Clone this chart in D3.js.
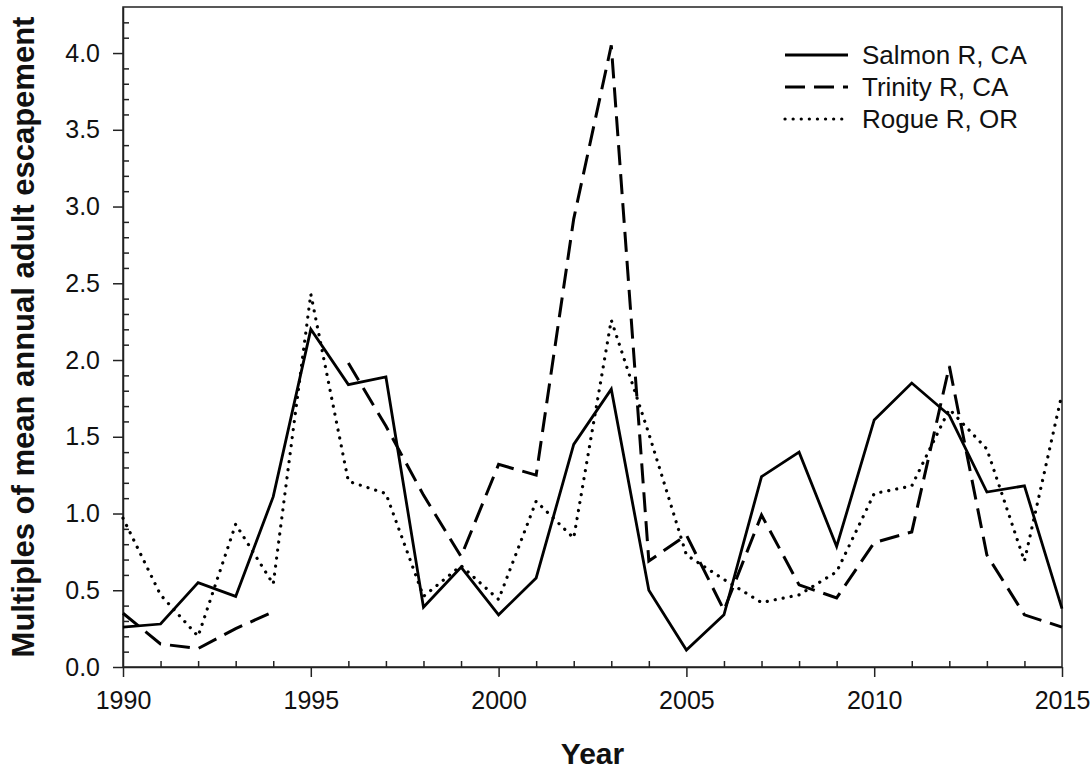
<!DOCTYPE html>
<html>
<head>
<meta charset="utf-8">
<script src="https://cdn.jsdelivr.net/npm/d3@7"></script>
<style>
  body { margin: 0; background: #fff; }
  svg { display: block; font-family: 'Liberation Sans', Arial, sans-serif; }
  .axis path, .axis line { stroke: #222; stroke-width: 1.5; }
  .axis text { font-size: 25px; fill: #111; }
  .series { fill: none; stroke: #000; }
</style>
</head>
<body>
<svg class="chart"></svg>
<script>
// data
let years = d3.range(1990, 2016);
let salmon = [0.26, 0.28, 0.55, 0.46, 1.11, 2.20, 1.84, 1.89, 0.39, 0.65, 0.34, 0.58, 1.45,
  1.81, 0.50, 0.11, 0.34, 1.24, 1.40, 0.785, 1.61, 1.85, 1.64, 1.14, 1.18, 0.38];
let trinity = [0.35, 0.15, 0.12, 0.25, 0.36, null, 1.98, 1.57, 1.12, 0.72, 1.32, 1.25, 2.92,
  4.05, 0.69, 0.86, 0.37, 0.99, 0.535, 0.45, 0.81, 0.88, 1.96, 0.73, 0.34, 0.26];
let rogue = [0.97, 0.47, 0.20, 0.93, 0.54, 2.43, 1.21, 1.13, 0.46, 0.66, 0.44, 1.08, 0.84,
  2.26, 1.52, 0.73, 0.57, 0.42, 0.47, 0.62, 1.13, 1.18, 1.68, 1.42, 0.69, 1.78];
let seriesNames = ['Salmon R, CA', 'Trinity R, CA', 'Rogue R, OR'];
let xMajor = [1990, 1995, 2000, 2005, 2010, 2015];
let yMajor = [0, 0.5, 1, 1.5, 2, 2.5, 3, 3.5, 4];

let margin = {top: 7, right: 30, bottom: 107, left: 123},
  width = 1092 - margin.left - margin.right,
  height = 774 - margin.top - margin.bottom;

let svg = d3.select('.chart')
  .attr('width', 1092)
  .attr('height', 774);

let g = svg.append('g')
  .attr('transform', 'translate(' + margin.left + ',' + margin.top + ')');

let xScale = d3.scaleLinear().domain([1990, 2015]).range([0, width]);
let yScale = d3.scaleLinear().domain([0, 4.3]).range([height, 0]);

// minor ticks point inward
g.append('g')
  .attr('class', 'axis')
  .attr('transform', 'translate(0,' + height + ')')
  .call(d3.axisBottom(xScale).tickValues(years.filter((d) => d % 5 !== 0)).tickSize(-6).tickFormat(''))
  .select('.domain').remove();

g.append('g')
  .attr('class', 'axis')
  .call(d3.axisLeft(yScale).tickValues(d3.range(1, 43).filter((d) => d % 5 !== 0).map((d) => d / 10)).tickSize(-6).tickFormat(''))
  .select('.domain').remove();

// major ticks point outward
g.append('g')
  .attr('class', 'axis')
  .attr('transform', 'translate(0,' + height + ')')
  .call(d3.axisBottom(xScale).tickValues(xMajor).tickSizeInner(10).tickSizeOuter(0).tickPadding(14).tickFormat(d3.format('d')));

g.append('g')
  .attr('class', 'axis')
  .call(d3.axisLeft(yScale).tickValues(yMajor).tickSizeInner(10).tickSizeOuter(0).tickPadding(13).tickFormat(d3.format('.1f')));

// frame
g.append('rect')
  .attr('width', width)
  .attr('height', height)
  .attr('fill', 'none')
  .attr('stroke', '#222')
  .attr('stroke-width', 1.5);

let line = d3.line()
  .defined((d) => d.v !== null)
  .x((d) => xScale(d.year))
  .y((d) => yScale(d.v));

let styles = [
  {dash: null, cap: 'butt', w: 2.8},
  {dash: '20,9', cap: 'butt', w: 3},
  {dash: '0.1,8', cap: 'round', w: 3.2}
];

[salmon, trinity, rogue].forEach((vals, i) => {
  g.append('path')
    .datum(years.map((y, j) => ({year: y, v: vals[j]})))
    .attr('class', 'series')
    .attr('d', line)
    .attr('stroke-width', styles[i].w)
    .attr('stroke-dasharray', styles[i].dash)
    .attr('stroke-linecap', styles[i].cap)
    .attr('stroke-linejoin', 'miter');
});

// legend
let legend = g.append('g')
  .attr('transform', 'translate(' + (785 - margin.left) + ',' + (55 - margin.top) + ')');

seriesNames.forEach((name, i) => {
  let row = legend.append('g').attr('transform', 'translate(0,' + i * 32 + ')');
  row.append('line')
    .attr('x1', 0).attr('x2', 63)
    .attr('stroke', '#000')
    .attr('stroke-width', styles[i].w)
    .attr('stroke-dasharray', styles[i].dash)
    .attr('stroke-linecap', styles[i].cap);
  row.append('text')
    .attr('x', 77)
    .attr('dy', '0.35em')
    .attr('font-size', 26)
    .attr('fill', '#111')
    .text(name);
});

// axis titles
svg.append('text')
  .attr('x', margin.left + width / 2)
  .attr('y', 764)
  .attr('text-anchor', 'middle')
  .attr('font-size', 30)
  .attr('font-weight', 'bold')
  .attr('fill', '#111')
  .text('Year');

svg.append('text')
  .attr('transform', 'translate(34,' + (margin.top + height / 2) + ') rotate(-90)')
  .attr('text-anchor', 'middle')
  .attr('font-size', 31)
  .attr('font-weight', 'bold')
  .attr('fill', '#111')
  .text('Multiples of mean annual adult escapement');
</script>
</body>
</html>
